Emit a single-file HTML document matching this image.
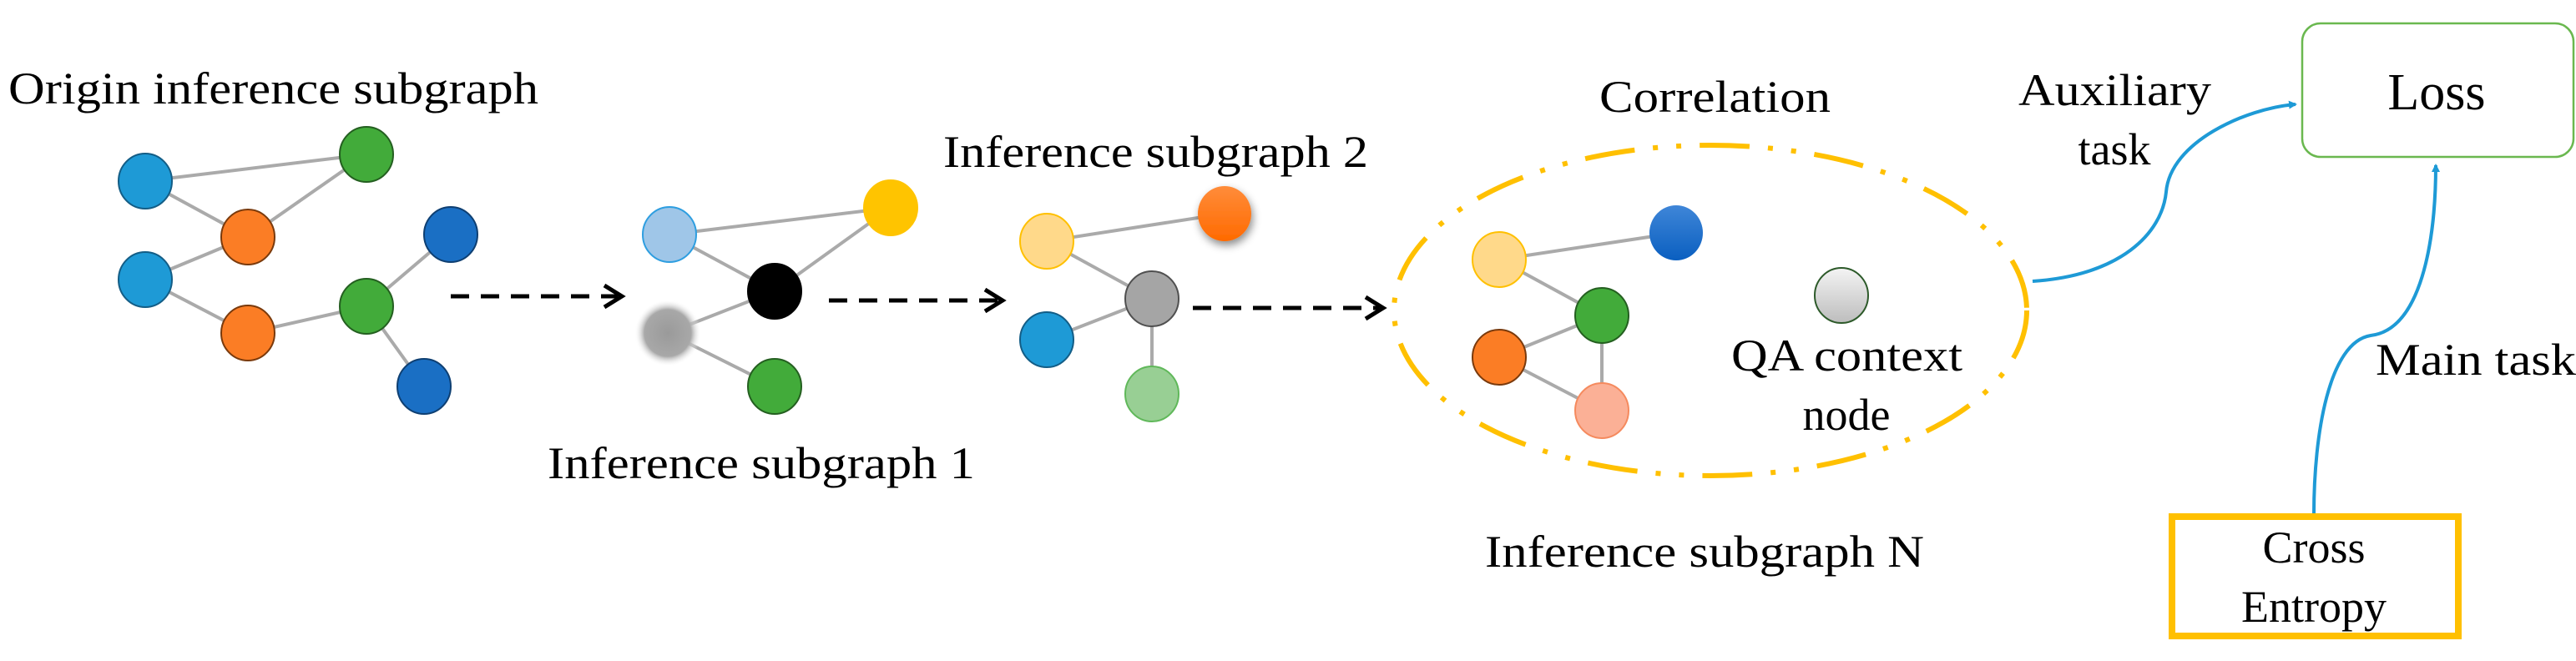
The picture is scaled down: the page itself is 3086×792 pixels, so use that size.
<!DOCTYPE html>
<html><head><meta charset="utf-8"><style>html,body{margin:0;padding:0;background:#fff}svg{display:block}</style></head>
<body>
<svg width="3086" height="792" viewBox="0 0 3086 792" xmlns="http://www.w3.org/2000/svg" font-family="Liberation Serif, serif" fill="#000">
<defs>
<radialGradient id="gb" cx="50%" cy="50%" r="50%"><stop offset="0" stop-color="#9a9a9a"/><stop offset="0.7" stop-color="#a8a8a8"/><stop offset="1" stop-color="#fff" stop-opacity="0"/></radialGradient>
<linearGradient id="qa" x1="0" y1="0" x2="0" y2="1"><stop offset="0" stop-color="#f4f4f4"/><stop offset="1" stop-color="#bdbdbd"/></linearGradient>
<linearGradient id="og" x1="0" y1="0" x2="0" y2="1"><stop offset="0" stop-color="#ff8c3a"/><stop offset="1" stop-color="#ff6a00"/></linearGradient>
<linearGradient id="db" x1="0" y1="0" x2="0" y2="1"><stop offset="0" stop-color="#3f86d8"/><stop offset="1" stop-color="#0a5fc0"/></linearGradient>
<filter id="sh" x="-50%" y="-50%" width="200%" height="200%"><feDropShadow dx="2" dy="5" stdDeviation="5" flood-color="#000" flood-opacity="0.45"/></filter>
<marker id="ah" markerWidth="10" markerHeight="10" refX="8" refY="5" orient="auto" markerUnits="userSpaceOnUse"><path d="M0,0 L10,5 L0,10 Z" fill="#1e9ad6"/></marker>
</defs>

<g stroke="#aaa" stroke-width="4" fill="none">
<line x1="174" y1="217" x2="439" y2="185"/><line x1="174" y1="217" x2="297" y2="284"/><line x1="297" y1="284" x2="439" y2="185"/>
<line x1="297" y1="284" x2="174" y2="335"/><line x1="174" y1="335" x2="297" y2="399"/><line x1="297" y1="399" x2="439" y2="367"/>
<line x1="439" y1="367" x2="540" y2="281"/><line x1="439" y1="367" x2="508" y2="463"/>
<line x1="802" y1="281" x2="1067" y2="249"/><line x1="802" y1="281" x2="928" y2="349"/><line x1="928" y1="349" x2="1067" y2="249"/>
<line x1="928" y1="349" x2="800" y2="399"/><line x1="800" y1="399" x2="928" y2="463"/>
<line x1="1254" y1="289" x2="1467" y2="256"/><line x1="1254" y1="289" x2="1380" y2="358"/><line x1="1380" y1="358" x2="1254" y2="407"/><line x1="1380" y1="358" x2="1380" y2="472"/>
<line x1="1796" y1="311" x2="2008" y2="279"/><line x1="1796" y1="311" x2="1919" y2="378"/><line x1="1919" y1="378" x2="1796" y2="428"/><line x1="1796" y1="428" x2="1919" y2="492"/><line x1="1919" y1="378" x2="1919" y2="492"/>
</g>

<g stroke-width="2">
<ellipse cx="174" cy="217" rx="32" ry="33" fill="#1e9ad6" stroke="#135d86"/>
<ellipse cx="439" cy="185" rx="32" ry="33" fill="#42ab3a" stroke="#245f20"/>
<ellipse cx="297" cy="284" rx="32" ry="33" fill="#fb7d25" stroke="#7a3a0c"/>
<ellipse cx="174" cy="335" rx="32" ry="33" fill="#1e9ad6" stroke="#135d86"/>
<ellipse cx="540" cy="281" rx="32" ry="33" fill="#1a6fc4" stroke="#0e3f72"/>
<ellipse cx="439" cy="367" rx="32" ry="33" fill="#42ab3a" stroke="#245f20"/>
<ellipse cx="297" cy="399" rx="32" ry="33" fill="#fb7d25" stroke="#7a3a0c"/>
<ellipse cx="508" cy="463" rx="32" ry="33" fill="#1a6fc4" stroke="#0e3f72"/>

<ellipse cx="802" cy="281" rx="32" ry="33" fill="#9fc6e8" stroke="#2e9ee0"/>
<ellipse cx="1067" cy="249" rx="32" ry="33" fill="#ffc400" stroke="#ffc400"/>
<ellipse cx="928" cy="349" rx="32" ry="33" fill="#000" stroke="#000"/>
<ellipse cx="800" cy="399" rx="40" ry="40" fill="url(#gb)" stroke="none"/>
<ellipse cx="928" cy="463" rx="32" ry="33" fill="#42ab3a" stroke="#245f20"/>

<ellipse cx="1254" cy="289" rx="32" ry="33" fill="#ffd98a" stroke="#ffc000"/>
<ellipse cx="1467" cy="256" rx="32" ry="33" fill="url(#og)" stroke="none" filter="url(#sh)"/>
<ellipse cx="1380" cy="358" rx="32" ry="33" fill="#a5a5a5" stroke="#505050"/>
<ellipse cx="1254" cy="407" rx="32" ry="33" fill="#1e9ad6" stroke="#135d86"/>
<ellipse cx="1380" cy="472" rx="32" ry="33" fill="#98cf94" stroke="#60b85a"/>

<ellipse cx="1796" cy="311" rx="32" ry="33" fill="#ffd98a" stroke="#ffc000"/>
<ellipse cx="2008" cy="279" rx="32" ry="33" fill="url(#db)" stroke="none"/>
<ellipse cx="1919" cy="378" rx="32" ry="33" fill="#42ab3a" stroke="#245f20"/>
<ellipse cx="1796" cy="428" rx="32" ry="33" fill="#fb7d25" stroke="#7a3a0c"/>
<ellipse cx="1919" cy="492" rx="32" ry="33" fill="#fbb096" stroke="#f58a5e"/>
<ellipse cx="2206" cy="354" rx="32" ry="33" fill="url(#qa)" stroke="#2d5a2a"/>
</g>

<!-- dashed arrows -->
<g stroke="#000" stroke-width="5" fill="none">
<line x1="540" y1="355" x2="740" y2="355" stroke-dasharray="22,14"/>
<polyline points="724,342 745,355 724,368" stroke-width="5"/>
<line x1="993" y1="360" x2="1196" y2="360" stroke-dasharray="22,14"/>
<polyline points="1180,347 1201,360 1180,373"/>
<line x1="1429" y1="369" x2="1652" y2="369" stroke-dasharray="22,14"/>
<polyline points="1636,356 1657,369 1636,382"/>
</g>

<ellipse cx="2049" cy="372" rx="379" ry="198" fill="none" stroke="#ffc000" stroke-width="6" stroke-dasharray="60,22,6,22,6,22"/>

<!-- blue curves -->
<path d="M2435,337 C2540,330 2590,280 2595,230 C2600,170 2690,130 2750,125" fill="none" stroke="#1e9ad6" stroke-width="4" marker-end="url(#ah)"/>
<path d="M2772,616 C2772,520 2790,410 2840,402 C2900,395 2918,290 2918,198" fill="none" stroke="#1e9ad6" stroke-width="4" marker-end="url(#ah)"/>

<rect x="2758" y="28" width="325" height="160" rx="22" fill="none" stroke="#6ab84f" stroke-width="2.5"/>
<rect x="2602" y="619" width="343" height="143" fill="none" stroke="#ffc000" stroke-width="8"/>

<g font-size="54">
<text x="10" y="124" textLength="635" lengthAdjust="spacingAndGlyphs">Origin inference subgraph</text>
<text x="656" y="573" textLength="512" lengthAdjust="spacingAndGlyphs">Inference subgraph 1</text>
<text x="1130" y="200" textLength="509" lengthAdjust="spacingAndGlyphs">Inference subgraph 2</text>
<text x="1916" y="134" textLength="277" lengthAdjust="spacingAndGlyphs">Correlation</text>
<text x="1779" y="679" textLength="526" lengthAdjust="spacingAndGlyphs">Inference subgraph N</text>
<text x="2074" y="444" textLength="277" lengthAdjust="spacingAndGlyphs">QA context</text>
<text x="2212" y="515" text-anchor="middle">node</text>
<text x="2418" y="126" textLength="231" lengthAdjust="spacingAndGlyphs">Auxiliary</text>
<text x="2533" y="197" text-anchor="middle">task</text>
<text x="2846" y="449" textLength="240" lengthAdjust="spacingAndGlyphs">Main task</text>
<text x="2772" y="674" text-anchor="middle">Cross</text>
<text x="2772" y="745" text-anchor="middle">Entropy</text>
</g>
<text x="2919" y="131" font-size="62" text-anchor="middle">Loss</text>
</svg>
</body></html>
